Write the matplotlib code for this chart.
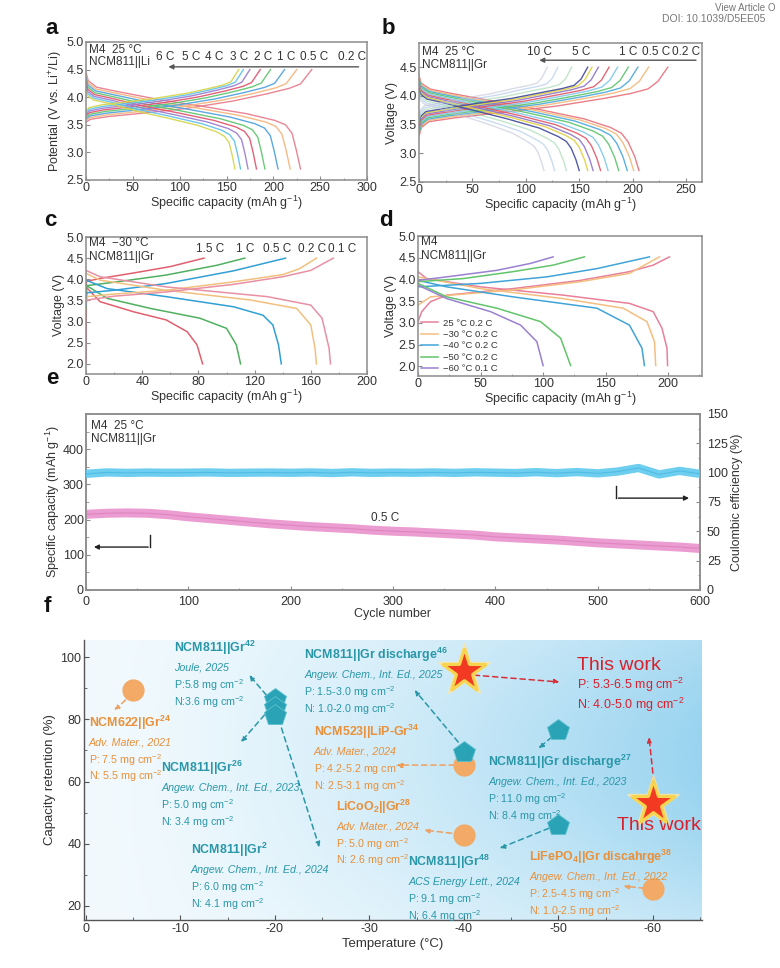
import numpy as np
import matplotlib
matplotlib.use('Agg')
import matplotlib.pyplot as plt
from matplotlib.ticker import MultipleLocator

plt.rcParams['font.family'] = ['Liberation Sans', 'DejaVu Sans']
plt.rcParams['mathtext.fontset'] = 'custom'
plt.rcParams['mathtext.rm'] = 'Liberation Sans'
plt.rcParams['mathtext.it'] = 'Liberation Sans:italic'
plt.rcParams['mathtext.bf'] = 'Liberation Sans:bold'
plt.rcParams['axes.unicode_minus'] = False
plt.rcParams['xtick.direction'] = 'in'
plt.rcParams['ytick.direction'] = 'in'

# ---------------- data: panel a (NCM811||Li, 25 C) ----------------
a_labels = ['0.2 C', '0.5 C', '1 C', '2 C', '3 C', '4 C', '5 C', '6 C']
a_colors = ['#e8788a', '#f4b27a', '#4a9fdc', '#5cc46a', '#e0506a', '#9a7ad0', '#5cc0e8', '#d4d448']
a_chg_end = [241, 225, 212, 197, 186, 175, 168, 163]
a_dis_end = [229, 218, 205, 191, 182, 173, 165, 159]
a_shift = [0.00, 0.03, 0.06, 0.09, 0.12, 0.15, 0.18, 0.21]
a_chg_frac = [0, 0.02, 0.10, 0.25, 0.45, 0.65, 0.80, 0.90, 0.95, 1.0]
a_chg_base = [3.55, 3.60, 3.65, 3.71, 3.80, 3.93, 4.06, 4.16, 4.24, 4.50]
a_chg_w = [1, 1, 1, 0.95, 0.85, 0.65, 0.45, 0.30, 0.20, 0]
a_dis_frac = [0, 0.01, 0.05, 0.15, 0.35, 0.55, 0.75, 0.88, 0.93, 0.96, 0.98, 1.0]
a_dis_base = [4.45, 4.30, 4.18, 4.10, 3.95, 3.83, 3.70, 3.58, 3.50, 3.35, 3.05, 2.70]
a_dis_w = [1.6, 1.3, 1.1, 1, 1, 1, 1, 1, 1, 0.8, 0.4, 0]
a_rate_text = ['6 C', '5 C', '4 C', '3 C', '2 C', '1 C', '0.5 C', '0.2 C']
a_rate_x = [85, 112, 137, 163, 189, 214, 244, 284]

# ---------------- data: panel b (NCM811||Gr, 25 C) ----------------
b_labels = ['0.2 C', '0.5 C', '1 C', '2 C', '3 C', '4 C', '5 C', '6 C', '7 C', '8 C', '9 C', '10 C']
b_colors = ['#e8707a', '#f4b878', '#4aa8dc', '#5cc46a', '#7ec8e8', '#e05868',
            '#8e74c8', '#e0d040', '#404a9a', '#9ad4a8', '#a8c4e8', '#c0c4d8']
b_chg_end = [233, 215, 205, 196, 186, 178, 168, 162, 158, 143, 130, 120]
b_dis_end = [206, 201, 195, 187, 177, 170, 163, 158, 150, 138, 127, 117]
b_shift = [0, 0.02, 0.04, 0.06, 0.08, 0.10, 0.12, 0.14, 0.16, 0.19, 0.22, 0.25]
b_chg_frac = [0, 0.01, 0.04, 0.15, 0.35, 0.55, 0.75, 0.85, 0.92, 0.96, 1.0]
b_chg_base = [3.30, 3.45, 3.55, 3.62, 3.72, 3.82, 3.96, 4.04, 4.12, 4.25, 4.50]
b_chg_w = [1.2, 1.2, 1.1, 1, 0.95, 0.85, 0.7, 0.55, 0.4, 0.25, 0]
b_dis_frac = [0, 0.01, 0.05, 0.15, 0.35, 0.55, 0.75, 0.87, 0.92, 0.95, 0.98, 1.0]
b_dis_base = [4.35, 4.22, 4.12, 4.04, 3.90, 3.76, 3.60, 3.45, 3.35, 3.20, 2.95, 2.70]
b_dis_w = [1.4, 1.2, 1.1, 1, 1, 1, 1, 1, 0.9, 0.7, 0.4, 0]
b_rate_text = ['10 C', '5 C', '1 C', '0.5 C', '0.2 C']
b_rate_x = [113, 152, 196, 222, 250]

# ---------------- data: panel c (NCM811||Gr, -30 C) ----------------
c_labels = ['1.5 C', '1 C', '0.5 C', '0.2 C', '0.1 C']
c_colors = ['#e0606e', '#50b060', '#30a0d4', '#f2c07e', '#e890a4']
c_chg_x = [[0, 0.3, 10, 34, 60, 84],
           [0, 0.5, 20, 57, 93, 113],
           [0, 0.5, 20, 57, 105, 142],
           [0, 1, 20, 57, 105, 140, 152, 164],
           [0, 1, 20, 57, 105, 140, 160, 176]]
c_chg_v = [[2.00, 3.95, 4.02, 4.15, 4.30, 4.50],
           [3.30, 3.85, 3.93, 4.10, 4.33, 4.50],
           [3.40, 3.68, 3.74, 3.90, 4.20, 4.50],
           [3.50, 3.59, 3.65, 3.74, 3.94, 4.11, 4.25, 4.50],
           [3.45, 3.51, 3.60, 3.70, 3.88, 4.06, 4.21, 4.50]]
c_dis_x = [[0, 10, 34, 57, 72, 79, 83],
           [0, 15, 46, 81, 100, 107, 110],
           [0, 15, 57, 105, 126, 133, 137, 139],
           [0, 10, 57, 117, 150, 160, 163, 164],
           [0, 10, 57, 129, 160, 168, 173, 174]]
c_dis_v = [[3.82, 3.47, 3.23, 3.04, 2.76, 2.45, 2.00],
           [3.86, 3.55, 3.31, 3.08, 2.84, 2.45, 2.00],
           [3.98, 3.78, 3.59, 3.35, 3.15, 2.92, 2.45, 2.00],
           [4.14, 3.98, 3.74, 3.51, 3.31, 2.92, 2.37, 2.00],
           [4.21, 4.06, 3.82, 3.59, 3.39, 3.08, 2.37, 2.00]]
c_rate_x = [88, 113, 136, 161, 182]

# ---------------- data: panel d (NCM811||Gr, temperatures) ----------------
d_labels = ['25 \u00b0C 0.2 C', '\u221230 \u00b0C 0.2 C', '\u221240 \u00b0C 0.2 C',
            '\u221250 \u00b0C 0.2 C', '\u221260 \u00b0C 0.1 C']
d_colors = ['#e8809a', '#f4be80', '#40a4d8', '#62c46a', '#9a80d0']
d_chg_x = [[0, 3, 10, 23, 76, 130, 169, 188, 201],
           [0, 10, 76, 130, 169, 193],
           [0, 50, 103, 143, 185],
           [0, 36, 76, 108, 133],
           [0, 23, 63, 90, 108]]
d_chg_v = [[3.03, 3.26, 3.49, 3.64, 3.79, 3.98, 4.18, 4.33, 4.52],
           [3.41, 3.60, 3.76, 3.95, 4.14, 4.52],
           [3.83, 3.91, 4.06, 4.25, 4.52],
           [3.95, 4.02, 4.18, 4.33, 4.52],
           [3.98, 4.06, 4.21, 4.37, 4.52]]
d_dis_x = [[0, 7, 50, 116, 169, 188, 195, 199, 199.5],
           [0, 50, 116, 164, 183, 189, 190],
           [0, 23, 76, 143, 169, 179, 181],
           [0, 23, 63, 98, 114, 122],
           [0, 23, 58, 82, 95, 100]]
d_dis_v = [[4.18, 4.02, 3.83, 3.64, 3.45, 3.26, 2.88, 2.42, 2.02],
           [4.06, 3.79, 3.56, 3.34, 3.03, 2.57, 2.02],
           [3.98, 3.83, 3.60, 3.34, 2.95, 2.42, 2.02],
           [3.91, 3.60, 3.34, 3.03, 2.65, 2.02],
           [3.87, 3.56, 3.26, 2.95, 2.57, 2.02]]

# ---------------- data: panel e (cycling 0.5 C) ----------------
e_cycles = [0, 20, 40, 60, 80, 100, 120, 140, 160, 180, 200, 220, 240, 260, 280, 300,
            320, 340, 360, 380, 400, 420, 440, 460, 480, 500, 520, 540, 560, 580, 600]
e_capacity = [215, 218, 219, 218, 214, 208, 203, 198, 193, 188, 184, 180, 177, 174, 170, 167,
              165, 162, 159, 156, 151, 148, 145, 142, 138, 134, 131, 128, 125, 122, 118]
e_ce = [99.0, 100.2, 99.8, 100.1, 99.9, 100.0, 100.2, 99.8, 100.0, 100.1, 99.9, 100.2, 99.7, 100.3,
        99.8, 100.1, 99.9, 100.2, 99.8, 100.3, 100.0, 99.7, 100.4, 99.6, 100.5, 99.4, 101.0, 104.0,
        98.5, 101.5, 99.0]

# ---------------- data: panel f (capacity retention vs temperature) ----------------
circ_T = [-5, -40, -40, -60]
circ_R = [89.5, 65.3, 42.8, 25.5]
pent_T = [-20, -20, -20, -40, -50, -50]
pent_R = [86.5, 84.0, 81.5, 69.5, 76.5, 46.0]
star_T = [-40, -60]
star_R = [95.5, 53.0]
f_xticks = [0, -10, -20, -30, -40, -50, -60]
f_yticks = [20, 40, 60, 80, 100]

TEAL = '#2a97a8'
ORANGE = '#e8903a'
RED = '#d8202c'
GREY = '#8c8c8c'
TXT = '#333333'

fig = plt.figure(figsize=(7.8, 9.68), dpi=100)


def style(ax, xlim, ylim, xmaj, xmin, ymaj, ymin=None, fs=9):
    ax.set_xlim(*xlim)
    ax.set_ylim(*ylim)
    ax.xaxis.set_major_locator(MultipleLocator(xmaj))
    ax.xaxis.set_minor_locator(MultipleLocator(xmin))
    ax.yaxis.set_major_locator(MultipleLocator(ymaj))
    if ymin:
        ax.yaxis.set_minor_locator(MultipleLocator(ymin))
    for s in ax.spines.values():
        s.set_color(GREY)
        s.set_linewidth(1.1)
    ax.tick_params(which='both', colors=GREY, labelcolor=TXT, labelsize=fs, pad=1.5)
    ax.tick_params(which='major', length=3)
    ax.tick_params(which='minor', length=1.8)


def ax_at(l, t, r, b):
    W, H = 780.0, 968.0
    return fig.add_axes([l / W, 1 - b / H, (r - l) / W, (b - t) / H])


# ---------------- panel a ----------------
axa = ax_at(86, 42, 367, 180)
style(axa, (0, 300), (2.5, 5.0), 50, 25, 0.5)
for i in range(len(a_labels)):
    xc = np.array(a_chg_frac) * a_chg_end[i]
    vc = np.array(a_chg_base) + a_shift[i] * np.array(a_chg_w)
    xd = np.array(a_dis_frac) * a_dis_end[i]
    vd = np.array(a_dis_base) - a_shift[i] * np.array(a_dis_w)
    axa.plot(xc, vc, color=a_colors[i], lw=1.0, alpha=0.9)
    axa.plot(xd, vd, color=a_colors[i], lw=1.0, alpha=0.9)
for t, x in zip(a_rate_text, a_rate_x):
    axa.text(x, 4.72, t, ha='center', va='center', fontsize=8.5, color=TXT)
axa.annotate('', xy=(85, 4.55), xytext=(294, 4.55),
             arrowprops=dict(arrowstyle='-|>', color='#555555', lw=1.0, mutation_scale=7))
axa.text(3, 4.86, 'M4  25 \u00b0C', fontsize=8.5, color=TXT, va='center')
axa.text(3, 4.63, 'NCM811||Li', fontsize=8.5, color=TXT, va='center')
axa.set_xlabel('Specific capacity (mAh g$^{-1}$)', fontsize=9, color=TXT, labelpad=0)
axa.set_ylabel('Potential (V vs. Li$^{+}$/Li)', fontsize=9, color=TXT, labelpad=1)

# ---------------- panel b ----------------
axb = ax_at(419, 43, 702, 182)
style(axb, (0, 265), (2.5, 4.92), 50, 25, 0.5)
for i in range(len(b_labels)):
    xc = np.array(b_chg_frac) * b_chg_end[i]
    vc = np.array(b_chg_base) + b_shift[i] * np.array(b_chg_w)
    xd = np.array(b_dis_frac) * b_dis_end[i]
    vd = np.array(b_dis_base) - b_shift[i] * np.array(b_dis_w)
    alpha = 0.9 if i < 9 else 0.6
    axb.plot(xc, vc, color=b_colors[i], lw=1.0, alpha=alpha)
    axb.plot(xd, vd, color=b_colors[i], lw=1.0, alpha=alpha)
for t, x in zip(b_rate_text, b_rate_x):
    axb.text(x, 4.76, t, ha='center', va='center', fontsize=8.5, color=TXT)
axb.annotate('', xy=(110, 4.62), xytext=(262, 4.62),
             arrowprops=dict(arrowstyle='-|>', color='#555555', lw=1.0, mutation_scale=7))
axb.text(3, 4.77, 'M4  25 \u00b0C', fontsize=8.5, color=TXT, va='center')
axb.text(3, 4.53, 'NCM811||Gr', fontsize=8.5, color=TXT, va='center')
axb.set_xlabel('Specific capacity (mAh g$^{-1}$)', fontsize=9, color=TXT, labelpad=0)
axb.set_ylabel('Voltage (V)', fontsize=9, color=TXT, labelpad=1)

# ---------------- panel c ----------------
axc = ax_at(86, 237, 367, 374)
style(axc, (0, 200), (1.76, 5.0), 40, 20, 0.5)
for i in range(len(c_labels)):
    axc.plot(c_chg_x[i], c_chg_v[i], color=c_colors[i], lw=1.1)
    axc.plot(c_dis_x[i], c_dis_v[i], color=c_colors[i], lw=1.1)
    axc.text(c_rate_x[i], 4.72, c_labels[i], ha='center', va='center', fontsize=8.5, color=TXT)
axc.text(2, 4.86, 'M4  \u221230 \u00b0C', fontsize=8.5, color=TXT, va='center')
axc.text(2, 4.53, 'NCM811||Gr', fontsize=8.5, color=TXT, va='center')
axc.set_xlabel('Specific capacity (mAh g$^{-1}$)', fontsize=9, color=TXT, labelpad=0)
axc.set_ylabel('Voltage (V)', fontsize=9, color=TXT, labelpad=1)

# ---------------- panel d ----------------
axd = ax_at(418, 236, 702, 376)
style(axd, (0, 227), (1.78, 5.0), 50, 25, 0.5)
for i in range(len(d_labels)):
    axd.plot(d_chg_x[i], d_chg_v[i], color=d_colors[i], lw=1.1, label=d_labels[i])
    axd.plot(d_dis_x[i], d_dis_v[i], color=d_colors[i], lw=1.1)
axd.legend(loc='lower left', fontsize=6.8, frameon=False, handlelength=1.8, handletextpad=0.5,
           labelspacing=0.25, borderaxespad=0.1, borderpad=0.2, labelcolor=TXT)
axd.text(2, 4.86, 'M4', fontsize=8.5, color=TXT, va='center')
axd.text(2, 4.53, 'NCM811||Gr', fontsize=8.5, color=TXT, va='center')
axd.set_xlabel('Specific capacity (mAh g$^{-1}$)', fontsize=9, color=TXT, labelpad=0)
axd.set_ylabel('Voltage (V)', fontsize=9, color=TXT, labelpad=1)

# ---------------- panel e ----------------
axe = ax_at(86, 414, 700, 590)
style(axe, (0, 600), (0, 500), 100, 50, 100, 50)
axe.tick_params(axis='x', pad=4)
axe.set_yticks([0, 100, 200, 300, 400])
axe.plot(e_cycles, e_capacity, color='#e88bc8', lw=6.5, alpha=0.85, solid_capstyle='round', zorder=3)
axe.plot(e_cycles, e_capacity, color='#d676b8', lw=0.8, alpha=0.6, zorder=4)
axe2 = axe.twinx()
axe2.set_ylim(0, 150)
axe2.yaxis.set_major_locator(MultipleLocator(25))
axe2.yaxis.set_minor_locator(MultipleLocator(12.5))
for s in axe2.spines.values():
    s.set_color(GREY)
    s.set_linewidth(1.1)
axe2.tick_params(which='both', colors=GREY, labelcolor=TXT, labelsize=9, pad=5, direction='in')
axe2.tick_params(which='major', length=3)
axe2.tick_params(which='minor', length=1.8)
axe2.plot(e_cycles, e_ce, color='#5ec9ee', lw=6, alpha=0.9, solid_capstyle='round', zorder=3)
axe2.plot(e_cycles, e_ce, color='#3fb0dc', lw=0.8, alpha=0.6, zorder=4)
axe.plot([63, 63], [156, 122], color='#222222', lw=1.0)
axe.annotate('', xy=(5, 122), xytext=(63.5, 122),
             arrowprops=dict(arrowstyle='-|>', color='#222222', lw=1.0, mutation_scale=7))
axe.plot([518, 518], [295, 261], color='#222222', lw=1.0)
axe.annotate('', xy=(592, 261), xytext=(517.5, 261),
             arrowprops=dict(arrowstyle='-|>', color='#222222', lw=1.0, mutation_scale=7))
axe.text(292, 204, '0.5 C', fontsize=8.5, color=TXT, ha='center', va='center')
axe.text(5, 465, 'M4  25 \u00b0C', fontsize=8.5, color=TXT, va='center')
axe.text(5, 428, 'NCM811||Gr', fontsize=8.5, color=TXT, va='center')
axe.set_xlabel('Cycle number', fontsize=9, color=TXT, labelpad=0)
axe.set_ylabel('Specific capacity (mAh g$^{-1}$)', fontsize=9, color=TXT, labelpad=1)
axe2.set_ylabel('Coulombic efficiency (%)', fontsize=9, color=TXT, labelpad=2)

# ---------------- panel f ----------------
axf = ax_at(84, 640, 702, 920)
axf.set_xlim(0.2, -65.2)
axf.set_ylim(15.5, 105.5)
gx = np.linspace(0, 1, 160)[None, :]
gy = np.linspace(0, 1, 80)[:, None]
c0 = np.array([0.95, 0.98, 0.995])
c1 = np.array([0.60, 0.83, 0.94])
tt = (gx ** 1.4) * (0.55 + 0.45 * np.sin(np.pi * (0.15 + 0.85 * gy)))
grad = c0[None, None, :] + (c1 - c0)[None, None, :] * tt[:, :, None]
axf.imshow(grad, extent=(0.2, -65.2, 15.5, 105.5), aspect='auto', origin='upper', zorder=0)
axf.set_xticks(f_xticks)
axf.set_xticklabels([str(t) for t in f_xticks])
axf.set_yticks(f_yticks)
axf.xaxis.set_minor_locator(MultipleLocator(5))
axf.yaxis.set_minor_locator(MultipleLocator(10))
for k in ['top', 'right']:
    axf.spines[k].set_visible(False)
for k in ['left', 'bottom']:
    axf.spines[k].set_color('#555555')
    axf.spines[k].set_linewidth(1.0)
axf.tick_params(which='both', colors='#555555', labelcolor=TXT, labelsize=9, pad=2)
axf.tick_params(which='major', length=3.5)
axf.tick_params(which='minor', length=2)
axf.set_xlabel('Temperature (\u00b0C)', fontsize=9.5, color=TXT, labelpad=2)
axf.set_ylabel('Capacity retention (%)', fontsize=9.5, color=TXT, labelpad=3)

DY = 5.4


def block(x, y, title, lines, color, fs=8.9, fs2=7.7):
    axf.text(x, y, title, color=color, fontsize=fs, fontweight='bold', ha='left', va='center', zorder=6)
    for j, ln in enumerate(lines):
        axf.text(x, y - DY * (j + 1) - 1.0, ln, color=color, fontsize=fs2,
                 fontstyle='italic' if j == 0 else 'normal', ha='left', va='center', zorder=6)


block(-9.3, 102.9, 'NCM811||Gr$^{\\mathbf{42}}$',
      ['Joule, 2025', 'P:5.8 mg cm$^{-2}$', 'N:3.6 mg cm$^{-2}$'], TEAL)
block(-23.1, 100.6, 'NCM811||Gr discharge$^{\\mathbf{46}}$',
      ['Angew. Chem., Int. Ed., 2025', 'P: 1.5-3.0 mg cm$^{-2}$', 'N: 1.0-2.0 mg cm$^{-2}$'], TEAL)
block(-0.3, 78.8, 'NCM622||Gr$^{\\mathbf{24}}$',
      ['Adv. Mater., 2021', 'P: 7.5 mg cm$^{-2}$', 'N: 5.5 mg cm$^{-2}$'], ORANGE)
block(-8.0, 64.3, 'NCM811||Gr$^{\\mathbf{26}}$',
      ['Angew. Chem., Int. Ed., 2023', 'P: 5.0 mg cm$^{-2}$', 'N: 3.4 mg cm$^{-2}$'], TEAL)
block(-24.1, 75.9, 'NCM523||LiP-Gr$^{\\mathbf{34}}$',
      ['Adv. Mater., 2024', 'P: 4.2-5.2 mg cm$^{-2}$', 'N: 2.5-3.1 mg cm$^{-2}$'], ORANGE)
block(-26.5, 51.8, 'LiCoO$_{\\mathbf{2}}$||Gr$^{\\mathbf{28}}$',
      ['Adv. Mater., 2024', 'P: 5.0 mg cm$^{-2}$', 'N: 2.6 mg cm$^{-2}$'], ORANGE)
block(-11.1, 37.9, 'NCM811||Gr$^{\\mathbf{2}}$',
      ['Angew. Chem., Int. Ed., 2024', 'P: 6.0 mg cm$^{-2}$', 'N: 4.1 mg cm$^{-2}$'], TEAL)
block(-34.1, 34.1, 'NCM811||Gr$^{\\mathbf{48}}$',
      ['ACS Energy Lett., 2024', 'P: 9.1 mg cm$^{-2}$', 'N: 6.4 mg cm$^{-2}$'], TEAL)
block(-42.6, 66.2, 'NCM811||Gr discharge$^{\\mathbf{27}}$',
      ['Angew. Chem., Int. Ed., 2023', 'P: 11.0 mg cm$^{-2}$', 'N: 8.4 mg cm$^{-2}$'], TEAL)
block(-46.9, 35.7, 'LiFePO$_{\\mathbf{4}}$||Gr discahrge$^{\\mathbf{38}}$',
      ['Angew. Chem., Int. Ed., 2022', 'P: 2.5-4.5 mg cm$^{-2}$', 'N: 1.0-2.5 mg cm$^{-2}$'], ORANGE)

axf.text(-52.0, 97.4, 'This work', color=RED, fontsize=14, ha='left', va='center', zorder=6)
axf.text(-52.0, 91.0, 'P: 5.3-6.5 mg cm$^{-2}$', color=RED, fontsize=9, ha='left', va='center', zorder=6)
axf.text(-52.0, 84.6, 'N: 4.0-5.0 mg cm$^{-2}$', color=RED, fontsize=9, ha='left', va='center', zorder=6)
axf.text(-56.2, 46.0, 'This work', color=RED, fontsize=14, ha='left', va='center', zorder=6)


def darrow(x0, y0, x1, y1, color):
    axf.annotate('', xy=(x1, y1), xytext=(x0, y0), zorder=4,
                 arrowprops=dict(arrowstyle='-|>', color=color, lw=1.1, linestyle=(0, (3.5, 2.5)),
                                 mutation_scale=7, shrinkA=0, shrinkB=0))


darrow(-19.1, 87.8, -17.3, 94.2, TEAL)
darrow(-18.9, 81.4, -16.4, 72.7, TEAL)
darrow(-20.7, 77.2, -24.7, 38.9, TEAL)
darrow(-39.4, 72.7, -34.8, 89.4, TEAL)
darrow(-49.3, 74.3, -47.9, 70.7, TEAL)
darrow(-49.0, 45.0, -43.8, 38.6, TEAL)
darrow(-4.2, 86.2, -3.0, 83.0, '#eea060')
darrow(-39.0, 65.3, -32.9, 65.3, '#eea060')
darrow(-38.7, 43.4, -35.8, 44.4, '#eea060')
darrow(-59.1, 25.7, -56.9, 26.4, '#eea060')
darrow(-41.1, 94.2, -50.1, 92.0, '#d8303a')
darrow(-60.1, 59.8, -59.6, 74.3, '#d8303a')

axf.plot(circ_T, circ_R, 'o', ms=15, color='#f2aa66', mec='#f2aa66', zorder=5, linestyle='none')
axf.plot(pent_T, pent_R, 'p', ms=16, color='#2aa3b6', mec='#5cc0cc', mew=0.6, zorder=5, linestyle='none')
axf.plot(star_T, star_R, '*', ms=40, color='#fbe6a4', alpha=0.8, zorder=5, linestyle='none')
axf.plot(star_T, star_R, '*', ms=33, color='#f23a22', mec='#f7d450', mew=2.2, zorder=6, linestyle='none')

# ---------------- panel letters and header ----------------
for lab, (px, py) in {'a': (52, 28), 'b': (388, 28), 'c': (50, 221), 'd': (386, 221),
                      'e': (52, 378), 'f': (47, 607)}.items():
    fig.text(px / 780, 1 - py / 968, lab, fontsize=16, fontweight='bold', ha='center', va='center',
             color='#111111')
fig.text(715 / 780, 1 - 8 / 968, 'View Article O', fontsize=7, color='#777777', va='center')
fig.text(662 / 780, 1 - 19 / 968, 'DOI: 10.1039/D5EE05', fontsize=7.5, color='#777777', va='center')

fig.savefig('out.png', dpi=100)
